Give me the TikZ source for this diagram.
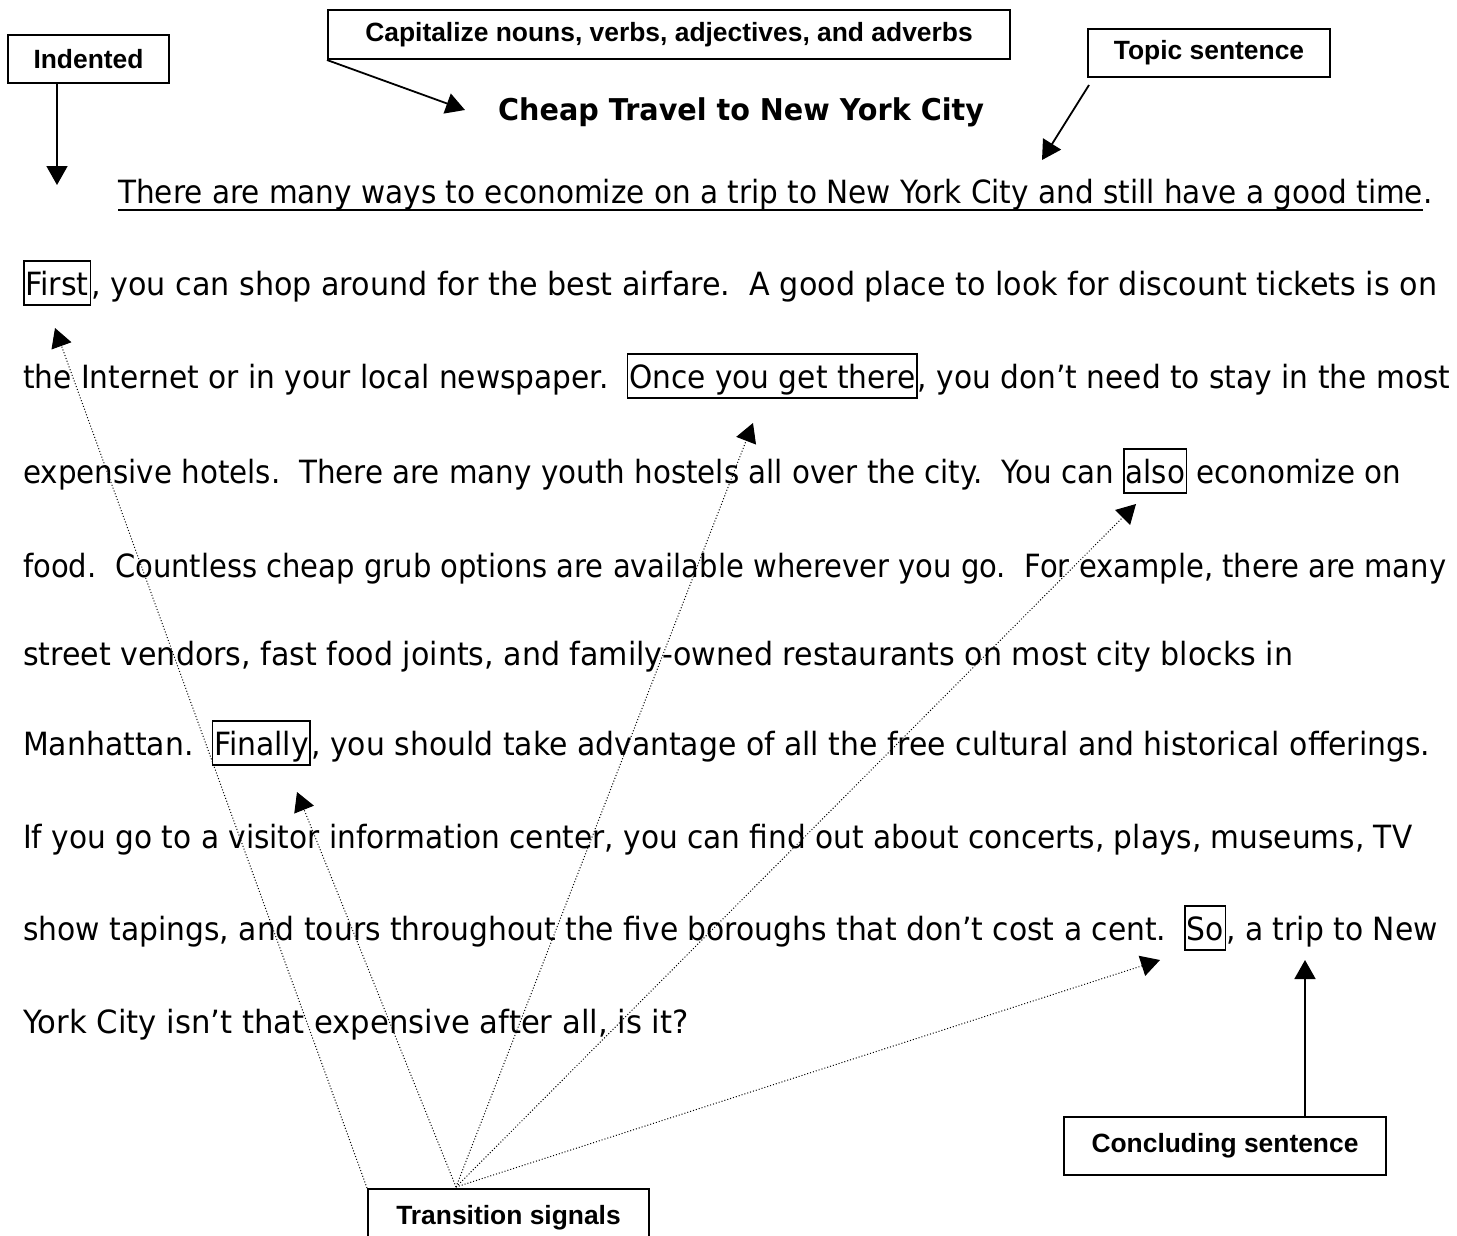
\documentclass[tikz,border=0pt]{standalone}
\usepackage{fontspec}
\setmainfont{DejaVu Sans}[FakeStretch=0.94]
\newfontfamily\labfont{Liberation Sans}
\newcommand\parafont[1]{\fontspec{DejaVu Sans}[FakeStretch=#1]\fontsize{32}{38}\selectfont}
\newcommand\titlefont{\fontspec{DejaVu Sans}[FakeStretch=0.955]\bfseries\fontsize{30}{36}\selectfont}
\usetikzlibrary{arrows.meta,calc}
\frenchspacing
\begin{document}
\begin{tikzpicture}[x=1pt,y=-1pt,
  seg/.style={anchor=base west, inner sep=0pt, font=\parafont{#1}},
  seg/.default=0.94,
  wbox/.style={seg=#1, draw, line width=1.6pt, inner xsep=1.5pt, inner ysep=0pt, text height=34pt, text depth=10pt},
  wbox/.default=0.94,
  lab/.style={draw, line width=2pt, font=\labfont\bfseries\fontsize{26.4}{30}\selectfont, inner sep=0pt},
  arr/.style={line width=1.8pt, -{Triangle[length=19pt,width=21pt]}},
  darr/.style={line width=1pt, dash pattern=on 1pt off 2pt, -{Triangle[length=19pt,width=21pt]}},
]
\useasboundingbox (0,0) rectangle (1457,1235);

% labels
\node[lab, minimum width=161pt, minimum height=48pt] (ind) at (88.5,59) {Indented};
\node[lab, minimum width=682pt, minimum height=49pt] (cap) at (669,34.5) {Capitalize nouns, verbs, adjectives, and adverbs};
\node[lab, minimum width=242pt, minimum height=48pt] (topic) at (1209,53) {Topic sentence};
\node[lab, minimum width=322pt, minimum height=58pt] (conc) at (1225,1146) {Concluding sentence};
\node[lab, minimum width=281pt, minimum height=58pt] (trans) at (508.5,1218) {Transition signals};

% title
\node[anchor=base west, inner sep=0pt, font=\titlefont] (title) at (498,120) {Cheap Travel to New York City};

% paragraph
\node[seg=0.922] (l1) at (118,203) {There are many ways to economize on a trip to New York City and still have a good time};
\node[seg=0.922] (l1e) at (l1.base east) {.};
\draw[line width=1.5pt] ([yshift=-7pt]l1.base west) -- ([yshift=-7pt]l1.base east);

\node[wbox=0.943] (first) at (23,295) {First};
\node[seg=0.943] (l2) at (first.base east) {, you can shop around for the best airfare.~ A good place to look for discount tickets is on};

\node[seg=0.926] (l3a) at (23,388) {the Internet or in your local newspaper.};
\node[wbox=0.926] (once) at ([xshift=18pt]l3a.base east) {Once you get there};
\node[seg=0.926] (l3b) at (once.base east) {, you don’t need to stay in the most};

\node[seg=0.917] (l4a) at (23,483) {expensive hotels.~ There are many youth hostels all over the city.~ You can};
\node[wbox=0.917] (also) at ([xshift=9pt]l4a.base east) {also};
\node[seg=0.917] (l4b) at ([xshift=9pt]also.base east) {economize on};

\node[seg=0.907] (l5) at (23,577) {food.~ Countless cheap grub options are available wherever you go.~ For example, there are many};

\node[seg=0.94] (l6) at (23,665) {street vendors, fast food joints, and family-owned restaurants on most city blocks in};

\node[seg=0.933] (l7a) at (23,755) {Manhattan.};
\node[wbox=0.933] (finally) at ([xshift=18pt]l7a.base east) {Finally};
\node[seg=0.933] (l7b) at (finally.base east) {, you should take advantage of all the free cultural and historical offerings.};

\node[seg=0.925] (l8) at (23,848) {If you go to a visitor information center, you can find out about concerts, plays, museums, TV};

\node[seg=0.93] (l9a) at (23,940) {show tapings, and tours throughout the five boroughs that don’t cost a cent.};
\node[wbox=0.93] (so) at ([xshift=18pt]l9a.base east) {So};
\node[seg=0.93] (l9b) at (so.base east) {, a trip to New};

\node[seg=0.959] (l10) at (23,1033) {York City isn’t that expensive after all, is it?};

% arrow tips
\coordinate (indtip) at (57,185);
\coordinate (captip) at (465,110);
\coordinate (topstart) at (1089,85);
\coordinate (toptip) at (1042,160);
\coordinate (firsttip) at (55,328);
\coordinate (oncetip) at (753,423);
\coordinate (alsotip) at (1136,504);
\coordinate (finallytip) at (297,792);
\coordinate (sotip) at (1160,960);
\coordinate (conctip) at (1305,960);
\coordinate (tO) at (456,1187);

\draw[arr] (indtip |- ind.south) -- (indtip);
\draw[arr] (cap.south west) -- (captip);
\draw[arr] (topstart) -- (toptip);
\draw[arr] (conctip |- conc.north) -- (conctip);

\draw[darr] (trans.north west) -- (firsttip);
\draw[darr] (tO) -- (finallytip);
\draw[darr] (tO) -- (oncetip);
\draw[darr] (tO) -- (alsotip);
\draw[darr] (tO) -- (sotip);
\end{tikzpicture}
\end{document}
